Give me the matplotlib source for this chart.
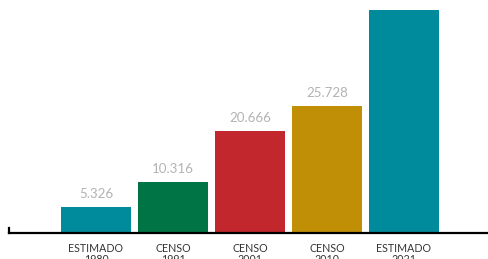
import matplotlib.pyplot as plt

categories = ["ESTIMADO\n1980", "CENSO\n1991", "CENSO\n2001", "CENSO\n2010", "ESTIMADO\n2021"]
values = [5326, 10316, 20666, 25728, 45100]
# the 2021 value label lies above the picture in the reference, so it is not drawn
labels = ["5.326", "10.316", "20.666", "25.728", ""]
colors = ["#008B9C", "#007444", "#C1272D", "#C18F06", "#008B9C"]

W, H = 489, 259
fig = plt.figure(figsize=(W / 100, H / 100), dpi=100)
base_px = 233
ax = fig.add_axes([9 / W, (H - base_px) / H, 480 / W, base_px / H])

px_per_unit = 4.94 / 1000
ax.set_ylim(0, base_px / px_per_unit)
ax.set_xlim(-(96 - 9) / 77, (489 - 96) / 77)

x = list(range(len(values)))
ax.bar(x, values, width=70 / 77, color=colors)

for xi, v, lab in zip(x, values, labels):
    if not lab:
        continue
    ax.annotate(lab, (xi, v), xytext=(0, 5), textcoords="offset points",
                ha="center", va="bottom", fontsize=9.6, color="#b3b3b3",
                family="Lato")

ax.set_xticks(x)
ax.set_xticklabels(categories, fontsize=7.7, color="#333333", family="Lato",
                   linespacing=1.0)
ax.tick_params(axis="x", length=0, pad=7.5)
ax.set_yticks([])

for s in ["top", "right"]:
    ax.spines[s].set_visible(False)
ax.spines["bottom"].set_linewidth(1.6)
ax.spines["left"].set_linewidth(1.6)
ax.spines["left"].set_bounds(0, 1000)

fig.savefig("out.png", dpi=100)
